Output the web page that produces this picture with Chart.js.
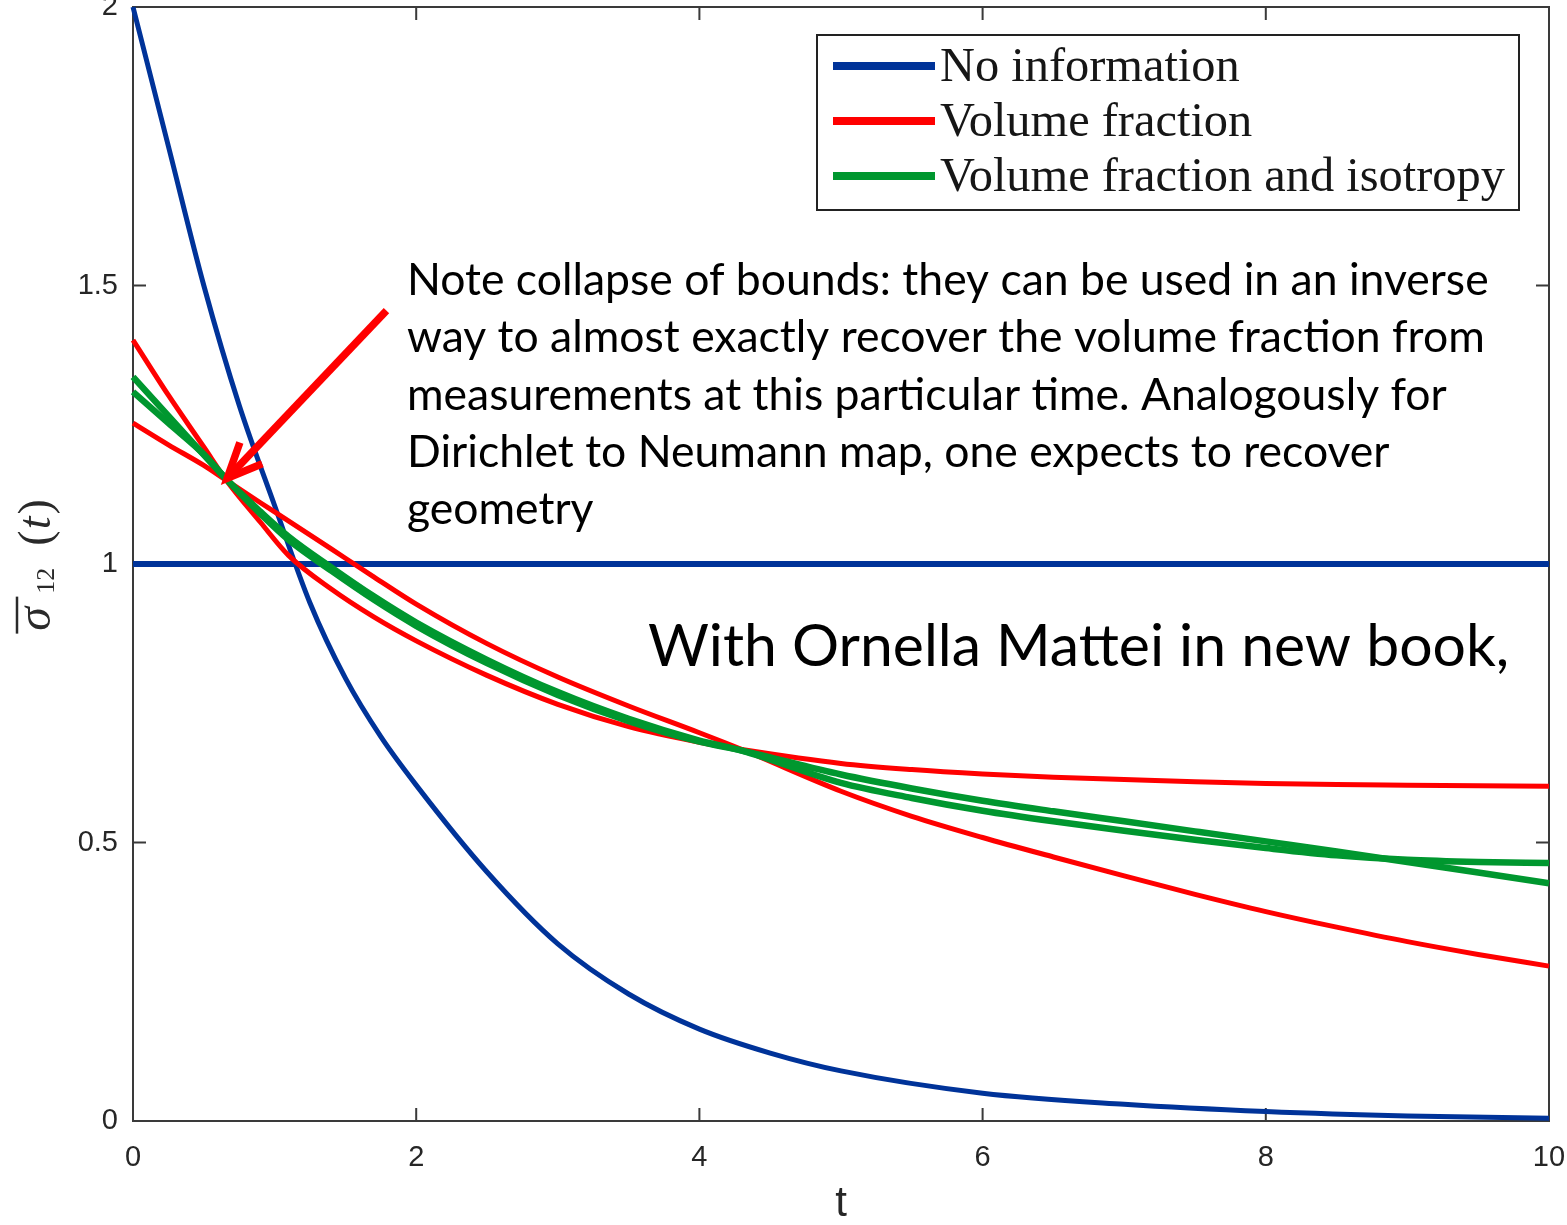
<!DOCTYPE html>
<html>
<head>
<meta charset="utf-8">
<title>Relaxation function bounds</title>
<script src="https://cdn.jsdelivr.net/npm/chart.js@4.4.1/dist/chart.umd.min.js"></script>
<style>
  html, body { margin: 0; padding: 0; background: #fff; }
  #chart { display: block; }
</style>
</head>
<body>
<canvas id="chart" width="1567" height="1225"></canvas>
<script>
// Values
const tNoInfo = [0, 0.25, 0.5, 0.75, 1, 1.25, 1.5, 1.75, 2, 2.5, 3, 3.5, 4, 4.5, 5, 6, 7, 8, 9, 10];
const noInfoDecay = [2.0, 1.75, 1.50, 1.285, 1.105, 0.93, 0.795, 0.69, 0.603, 0.447, 0.318, 0.228, 0.165, 0.122, 0.09, 0.05, 0.03, 0.017, 0.009, 0.005];

const tFlat = [0, 10];
const noInfoFlat = [1, 1];

const tBounds = [0, 0.25, 0.5, 0.66, 0.9, 1.1, 1.4, 1.7, 2, 2.5, 3, 3.5, 4, 4.3, 5, 5.5, 6, 6.5, 7, 7.5, 8, 8.5, 9, 9.5, 10];
const volFracA = [1.402, 1.303, 1.21, 1.15, 1.075, 1.015, 0.955, 0.905, 0.862, 0.80, 0.748, 0.708, 0.68, 0.667, 0.642, 0.631, 0.623, 0.617, 0.613, 0.609, 0.606, 0.604, 0.603, 0.602, 0.601];
const volFracB = [1.253, 1.214, 1.177, 1.15, 1.11, 1.077, 1.027, 0.977, 0.928, 0.857, 0.797, 0.745, 0.697, 0.667, 0.592, 0.547, 0.509, 0.474, 0.44, 0.407, 0.376, 0.348, 0.322, 0.299, 0.278];
const isoA = [1.336, 1.266, 1.196, 1.152, 1.09, 1.043, 0.988, 0.936, 0.889, 0.822, 0.765, 0.718, 0.681, 0.665, 0.622, 0.597, 0.575, 0.556, 0.538, 0.52, 0.502, 0.484, 0.465, 0.446, 0.427];
const isoB = [1.309, 1.253, 1.197, 1.152, 1.094, 1.049, 0.994, 0.942, 0.895, 0.828, 0.77, 0.722, 0.683, 0.665, 0.607, 0.58, 0.557, 0.538, 0.521, 0.505, 0.49, 0.477, 0.469, 0.465, 0.463];

const xTicks = [0, 2, 4, 6, 8, 10];
const yTicks = [0, 0.5, 1, 1.5, 2];

const legendLabels = ['No information', 'Volume fraction', 'Volume fraction and isotropy'];
const seriesColors = ['#003399', '#ff0000', '#00972f'];

const noteLines = [
    'Note collapse of bounds: they can be used in an inverse',
    'way to almost exactly recover the volume fraction from',
    'measurements at this particular time. Analogously for',
    'Dirichlet to Neumann map, one expects to recover',
    'geometry'
];
const bookNote = 'With Ornella Mattei in new book,';

// arrow from the note to the point where the bounds collapse (data coords)
const arrowFrom = [1.79, 1.455];
const arrowTo = [0.665, 1.154];

const AXIS_COLOR = '#3a3a3a';

function toPoints(ts, vs) {
    return ts.map((t, i) => ({ x: t, y: vs[i] }));
}

function lineSet(label, data, color, width, order) {
    return {
        label,
        data,
        borderColor: color,
        backgroundColor: color,
        borderWidth: width,
        pointRadius: 0,
        fill: false,
        cubicInterpolationMode: 'monotone',
        clip: false,
        order
    };
}

// Box, inward ticks, legend, notes and the y title
const overlayPlugin = {
    id: 'overlay',
    beforeDatasetsDraw(chart) {
        const { ctx, chartArea: a, scales: { x, y } } = chart;
        const tickLen = 13;
        ctx.save();
        ctx.strokeStyle = AXIS_COLOR;
        ctx.lineWidth = 2;
        ctx.strokeRect(a.left, a.top, a.right - a.left, a.bottom - a.top);
        ctx.beginPath();
        xTicks.forEach(v => {
            const px = x.getPixelForValue(v);
            ctx.moveTo(px, a.bottom); ctx.lineTo(px, a.bottom - tickLen);
            ctx.moveTo(px, a.top); ctx.lineTo(px, a.top + tickLen);
        });
        yTicks.forEach(v => {
            const py = y.getPixelForValue(v);
            ctx.moveTo(a.left, py); ctx.lineTo(a.left + tickLen, py);
            ctx.moveTo(a.right, py); ctx.lineTo(a.right - tickLen, py);
        });
        ctx.stroke();
        ctx.restore();
    },
    afterDatasetsDraw(chart) {
        const { ctx, chartArea: a, scales: { x, y } } = chart;
        ctx.save();

        // legend box
        const box = { left: a.right - 732, right: a.right - 30, top: a.top + 28, bottom: a.top + 203 };
        ctx.fillStyle = '#fff';
        ctx.fillRect(box.left, box.top, box.right - box.left, box.bottom - box.top);
        ctx.strokeStyle = '#222';
        ctx.lineWidth = 2;
        ctx.strokeRect(box.left, box.top, box.right - box.left, box.bottom - box.top);

        ctx.font = '40px "Liberation Serif", "DejaVu Serif", serif';
        const legendSize = 40 * 565 / ctx.measureText(legendLabels[2]).width;
        ctx.font = legendSize.toFixed(1) + 'px "Liberation Serif", "DejaVu Serif", serif';
        ctx.textBaseline = 'middle';
        ctx.textAlign = 'left';
        legendLabels.forEach((label, i) => {
            const ly = box.top + 31 + i * 55;
            ctx.strokeStyle = seriesColors[i];
            ctx.lineWidth = 8;
            ctx.beginPath();
            ctx.moveTo(box.left + 16, ly);
            ctx.lineTo(box.left + 118, ly);
            ctx.stroke();
            ctx.fillStyle = '#161616';
            ctx.fillText(label, box.left + 123, ly + 2);
        });

        // note text
        const noteLeft = x.getPixelForValue(1.935);
        ctx.font = '48px Lato, "Open Sans", sans-serif';
        const noteSize = 48 * 1081 / ctx.measureText(noteLines[0]).width;
        ctx.font = noteSize.toFixed(1) + 'px Lato, "Open Sans", sans-serif';
        ctx.fillStyle = '#000';
        ctx.textBaseline = 'alphabetic';
        noteLines.forEach((line, i) => {
            ctx.fillText(line, noteLeft, a.top + 288 + i * 57.3);
        });

        ctx.font = '64px Lato, "Open Sans", sans-serif';
        const bookSize = 64 * 862 / ctx.measureText(bookNote).width;
        ctx.font = bookSize.toFixed(1) + 'px Lato, "Open Sans", sans-serif';
        ctx.fillText(bookNote, x.getPixelForValue(3.637), a.top + 659);

        // arrow
        const x0 = x.getPixelForValue(arrowFrom[0]), y0 = y.getPixelForValue(arrowFrom[1]);
        const x1 = x.getPixelForValue(arrowTo[0]), y1 = y.getPixelForValue(arrowTo[1]);
        const ang = Math.atan2(y0 - y1, x0 - x1);
        const head = 38, spread = 24 * Math.PI / 180;
        ctx.strokeStyle = '#ff0000';
        ctx.lineWidth = 7.5;
        ctx.lineCap = 'butt';
        ctx.lineJoin = 'miter';
        ctx.beginPath();
        ctx.moveTo(x0, y0);
        ctx.lineTo(x1 + 3 * Math.cos(ang), y1 + 3 * Math.sin(ang));
        ctx.stroke();
        ctx.beginPath();
        ctx.moveTo(x1 + head * Math.cos(ang - spread), y1 + head * Math.sin(ang - spread));
        ctx.lineTo(x1, y1);
        ctx.lineTo(x1 + head * Math.cos(ang + spread), y1 + head * Math.sin(ang + spread));
        ctx.stroke();

        // y axis title: sigma-bar_12 (t), rotated
        ctx.translate(50, y.getPixelForValue(0.875));
        ctx.rotate(-Math.PI / 2);
        ctx.fillStyle = '#2a2a2a';
        ctx.strokeStyle = '#2a2a2a';
        ctx.textBaseline = 'alphabetic';
        ctx.font = 'italic 48px "Liberation Serif", "DejaVu Serif", serif';
        ctx.fillText('σ', 3, 0);
        ctx.lineWidth = 2.5;
        ctx.beginPath();
        ctx.moveTo(0, -33);
        ctx.lineTo(37, -33);
        ctx.stroke();
        ctx.font = '26px "Liberation Serif", "DejaVu Serif", serif';
        ctx.fillText('12', 40, 4);
        ctx.font = '46px "Liberation Serif", "DejaVu Serif", serif';
        ctx.fillText('(', 88, 0);
        const pw = ctx.measureText('(').width;
        ctx.font = 'italic 46px "Liberation Serif", "DejaVu Serif", serif';
        ctx.fillText('t', 88 + pw + 1, 0);
        const tw = ctx.measureText('t').width;
        ctx.font = '46px "Liberation Serif", "DejaVu Serif", serif';
        ctx.fillText(')', 88 + pw + tw + 3, 0);

        ctx.restore();
    }
};

const tickFont = { family: '"Liberation Sans", Arial, sans-serif', size: 29 };

const chart = new Chart(document.getElementById('chart'), {
    type: 'line',
    data: {
        datasets: [
            lineSet(legendLabels[0], toPoints(tNoInfo, noInfoDecay), seriesColors[0], 5, 3),
            lineSet(legendLabels[0], toPoints(tFlat, noInfoFlat), seriesColors[0], 6, 3),
            lineSet(legendLabels[1], toPoints(tBounds, volFracA), seriesColors[1], 5, 2),
            lineSet(legendLabels[1], toPoints(tBounds, volFracB), seriesColors[1], 5, 2),
            lineSet(legendLabels[2], toPoints(tBounds, isoA), seriesColors[2], 6.5, 1),
            lineSet(legendLabels[2], toPoints(tBounds, isoB), seriesColors[2], 6.5, 1)
        ]
    },
    options: {
        responsive: false,
        animation: false,
        layout: { padding: { top: 7, right: 18, left: 0, bottom: 0 } },
        plugins: {
            legend: { display: false },
            tooltip: { enabled: false }
        },
        scales: {
            x: {
                type: 'linear',
                min: 0,
                max: 10,
                afterBuildTicks: scale => { scale.ticks = xTicks.map(v => ({ value: v })); },
                afterFit: scale => {
                    scale.height = 104;
                    scale.paddingLeft = 0;
                    scale.paddingRight = 0;
                },
                grid: { display: false, drawTicks: false },
                border: { display: false },
                ticks: { font: tickFont, color: '#262626', padding: 20, maxRotation: 0, callback: v => String(v) },
                title: {
                    display: true,
                    text: 't',
                    color: '#262626',
                    font: { family: '"Liberation Sans", Arial, sans-serif', size: 42, lineHeight: 1 },
                    padding: { top: 0, bottom: 0 }
                }
            },
            y: {
                type: 'linear',
                min: 0,
                max: 2,
                afterBuildTicks: scale => { scale.ticks = yTicks.map(v => ({ value: v })); },
                afterFit: scale => {
                    scale.width = 133;
                    scale.paddingTop = 0;
                    scale.paddingBottom = 0;
                },
                grid: { display: false, drawTicks: false },
                border: { display: false },
                ticks: { font: tickFont, color: '#262626', padding: 15, callback: v => String(v) }
            }
        }
    },
    plugins: [overlayPlugin]
});
</script>
</body>
</html>
